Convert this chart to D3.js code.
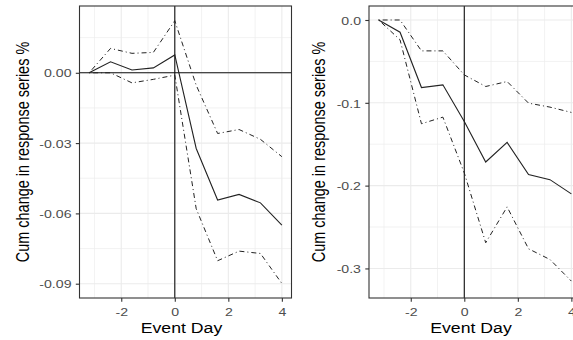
<!DOCTYPE html>
<html><head><meta charset="utf-8">
<script src="https://cdn.jsdelivr.net/npm/d3@7"></script>
<style>
body{margin:0;background:#fff}
svg{display:block}
text{font-family:"Liberation Sans",Arial,Helvetica,sans-serif}
</style>
</head><body>
<svg id="c" width="573" height="340"></svg>
<script>
// ---- data ----
const days = [-3.2, -2.4, -1.6, -0.8, 0, 0.8, 1.6, 2.4, 3.2, 4];

const leftMean  = [0, 0.0047, 0.0012, 0.0021, 0.0076, -0.0323, -0.0543, -0.0519, -0.0555, -0.0650];
const leftUpper = [0, 0.0104, 0.0083, 0.0087, 0.0222, -0.0053, -0.0259, -0.0242, -0.0284, -0.0358];
const leftLower = [0, 0.0000, -0.0043, -0.0028, -0.0010, -0.0580, -0.0802, -0.0761, -0.0771, -0.0899];

const rightMean  = [0, -0.0148, -0.0816, -0.0783, -0.1225, -0.1715, -0.1478, -0.1867, -0.1928, -0.2100];
const rightUpper = [0, 0.0000, -0.0373, -0.0373, -0.0663, -0.0803, -0.0743, -0.1004, -0.1052, -0.1116];
const rightLower = [0, -0.0240, -0.1253, -0.1173, -0.1847, -0.2690, -0.2257, -0.2763, -0.2892, -0.3153];

const xTicks = [-2, 0, 2, 4];
const xTickLabels = ["-2", "0", "2", "4"];
const xMinor = [-3, -1, 1, 3];

const leftYTicks = [0, -0.03, -0.06, -0.09];
const leftYLabels = ["0.00", "-0.03", "-0.06", "-0.09"];
const leftYMinor = [0.015, -0.015, -0.045, -0.075];

const rightYTicks = [0, -0.1, -0.2, -0.3];
const rightYLabels = ["0.0", "-0.1", "-0.2", "-0.3"];
const rightYMinor = [-0.05, -0.15, -0.25];

const xTitle = "Event Day";
const yTitle = "Cum change in response series %";

// ---- layout ----
const svg = d3.select("#c");
const SX = 1.22;          // horizontal text stretch seen in the reference
const pTop = 6, pBottom = 298, panelW = 212;
const xDomain = [-3.56, 4.36];

function drawPanel(cfg) {
  const g = svg.append("g");
  const x = d3.scaleLinear().domain(xDomain).range([cfg.left, cfg.left + panelW]);
  const y = d3.scaleLinear().domain(cfg.yDomain).range([pBottom, pTop]);
  const clipId = "clip" + cfg.id;
  svg.append("clipPath").attr("id", clipId).append("rect")
    .attr("x", cfg.left).attr("y", pTop).attr("width", panelW).attr("height", pBottom - pTop);

  const grid = g.append("g").attr("clip-path", `url(#${clipId})`);
  grid.selectAll(".vmin").data(xMinor).join("line")
    .attr("x1", d => x(d)).attr("x2", d => x(d)).attr("y1", pTop).attr("y2", pBottom)
    .attr("stroke", "#ececec").attr("stroke-width", 0.7);
  grid.selectAll(".hmin").data(cfg.yMinor).join("line")
    .attr("y1", d => y(d)).attr("y2", d => y(d)).attr("x1", cfg.left).attr("x2", cfg.left + panelW)
    .attr("stroke", "#ececec").attr("stroke-width", 0.7);
  grid.selectAll(".vmaj").data(xTicks).join("line")
    .attr("x1", d => x(d)).attr("x2", d => x(d)).attr("y1", pTop).attr("y2", pBottom)
    .attr("stroke", "#ebebeb").attr("stroke-width", 1.1);
  grid.selectAll(".hmaj").data(cfg.yTicks).join("line")
    .attr("y1", d => y(d)).attr("y2", d => y(d)).attr("x1", cfg.left).attr("x2", cfg.left + panelW)
    .attr("stroke", "#ebebeb").attr("stroke-width", 1.1);

  const plot = g.append("g").attr("clip-path", `url(#${clipId})`);
  if (cfg.hline) {
    plot.append("line").attr("x1", cfg.left).attr("x2", cfg.left + panelW)
      .attr("y1", y(0)).attr("y2", y(0)).attr("stroke", "#111").attr("stroke-width", 1.1);
  }
  plot.append("line").attr("x1", x(0)).attr("x2", x(0)).attr("y1", pTop).attr("y2", pBottom)
    .attr("stroke", "#111").attr("stroke-width", 1.1);

  const line = d3.line().x((d, i) => x(days[i])).y(d => y(d));
  plot.append("path").datum(cfg.upper).attr("d", line).attr("fill", "none")
    .attr("stroke", "#222").attr("stroke-width", 1).attr("stroke-dasharray", "1,3,5,3");
  plot.append("path").datum(cfg.lower).attr("d", line).attr("fill", "none")
    .attr("stroke", "#222").attr("stroke-width", 1).attr("stroke-dasharray", "1,3,5,3");
  plot.append("path").datum(cfg.mean).attr("d", line).attr("fill", "none")
    .attr("stroke", "#222").attr("stroke-width", 1.1);

  g.append("rect").attr("x", cfg.left).attr("y", pTop).attr("width", panelW).attr("height", pBottom - pTop)
    .attr("fill", "none").attr("stroke", "#333").attr("stroke-width", 1.1);

  const ax = g.append("g").attr("transform", `translate(0,${pBottom})`)
    .call(d3.axisBottom(x).tickValues(xTicks).tickFormat((d, i) => xTickLabels[i]).tickSize(3.7).tickPadding(2));
  ax.select(".domain").remove();
  ax.selectAll("line").attr("stroke", "#333").attr("stroke-width", 1.1);
  ax.selectAll("text").attr("fill", "#4d4d4d").style("font-size", "11.6px")
    .attr("y", 0).attr("dy", null)
    .attr("transform", `translate(0,18) scale(${SX},1)`);

  const ay = g.append("g").attr("transform", `translate(${cfg.left},0)`)
    .call(d3.axisLeft(y).tickValues(cfg.yTicks).tickFormat((d, i) => cfg.yLabels[i]).tickSize(3.7).tickPadding(4));
  ay.select(".domain").remove();
  ay.selectAll("line").attr("stroke", "#333").attr("stroke-width", 1.1);
  ay.selectAll("text").attr("fill", "#4d4d4d").style("font-size", "11.6px")
    .attr("x", 0).attr("dy", null)
    .attr("transform", `translate(-8,4.2) scale(${SX},1)`);

  g.append("text").attr("text-anchor", "middle").attr("fill", "#000")
    .style("font-size", "14.5px")
    .attr("transform", `translate(${cfg.left + panelW / 2 - 4},332.5) scale(${SX},1)`)
    .text(xTitle);
  g.append("text").attr("text-anchor", "middle").attr("fill", "#000")
    .style("font-size", "14.5px")
    .attr("transform", `translate(${cfg.yTitleX},${(pTop + pBottom) / 2}) scale(${SX},1) rotate(-90)`)
    .text(yTitle);
}

drawPanel({id: "L", left: 79.5, yDomain: [-0.0961, 0.0285], mean: leftMean, upper: leftUpper, lower: leftLower,
  yTicks: leftYTicks, yLabels: leftYLabels, yMinor: leftYMinor, hline: true, yTitleX: 29});
drawPanel({id: "R", left: 369, yDomain: [-0.3357, 0.0169], mean: rightMean, upper: rightUpper, lower: rightLower,
  yTicks: rightYTicks, yLabels: rightYLabels, yMinor: rightYMinor, hline: false, yTitleX: 325});
</script>
</body></html>
